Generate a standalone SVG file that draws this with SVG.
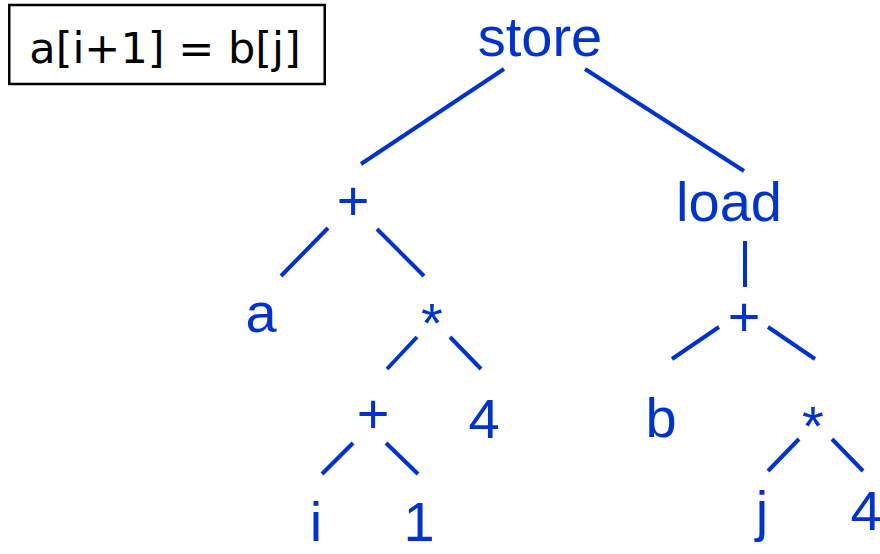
<svg xmlns="http://www.w3.org/2000/svg" width="880" height="554" viewBox="0 0 880 554">
<style>
.n{font-family:"Liberation Sans",Arial,sans-serif;font-size:56px;fill:#0033cc;text-anchor:middle}
.e line{stroke:#0033cc;stroke-width:4;stroke-linecap:butt}
.lbl{font-family:"DejaVu Sans",Verdana,sans-serif;font-size:43px;fill:#000;text-anchor:middle}
</style>
<rect width="880" height="554" fill="#fff"/>
<g id="caption">
<rect x="9.25" y="5" width="315.5" height="79" fill="none" stroke="#000" stroke-width="2.5"/>
<text class="lbl" x="165" y="63">a[i+1] = b[j]</text>
</g>
<g class="e" id="edges">
<line x1="504" y1="69" x2="361" y2="164"/>
<line x1="585" y1="69" x2="744" y2="171"/>
<line x1="328" y1="228" x2="281" y2="276"/>
<line x1="377" y1="229" x2="424" y2="276"/>
<line x1="417" y1="337" x2="387" y2="369"/>
<line x1="450" y1="337" x2="481" y2="369"/>
<line x1="353" y1="443" x2="322" y2="474"/>
<line x1="386" y1="443" x2="418" y2="474"/>
<line x1="745" y1="241" x2="745" y2="287"/>
<line x1="719" y1="327" x2="672" y2="359"/>
<line x1="768" y1="327" x2="815" y2="359"/>
<line x1="799" y1="439" x2="768" y2="471"/>
<line x1="832" y1="439" x2="863" y2="471"/>
</g>
<g id="store"><text class="n" x="540" y="56">store</text></g>
<g id="plus1"><text class="n" x="353" y="220">+</text></g>
<g id="load"><text class="n" x="729" y="221">load</text></g>
<g id="a"><text class="n" x="261" y="332">a</text></g>
<g id="mul1"><text class="n" x="432" y="342">*</text></g>
<g id="plus2"><text class="n" x="373" y="433">+</text></g>
<g id="four1"><text class="n" x="484" y="438">4</text></g>
<g id="i"><text class="n" x="316" y="541">i</text></g>
<g id="one"><text class="n" x="419" y="541">1</text></g>
<g id="plus3"><text class="n" x="744" y="336">+</text></g>
<g id="b"><text class="n" x="661" y="437">b</text></g>
<g id="mul2"><text class="n" x="813" y="445">*</text></g>
<g id="j"><text class="n" x="762" y="530">j</text></g>
<g id="four2"><text class="n" x="866" y="530">4</text></g>
</svg>
